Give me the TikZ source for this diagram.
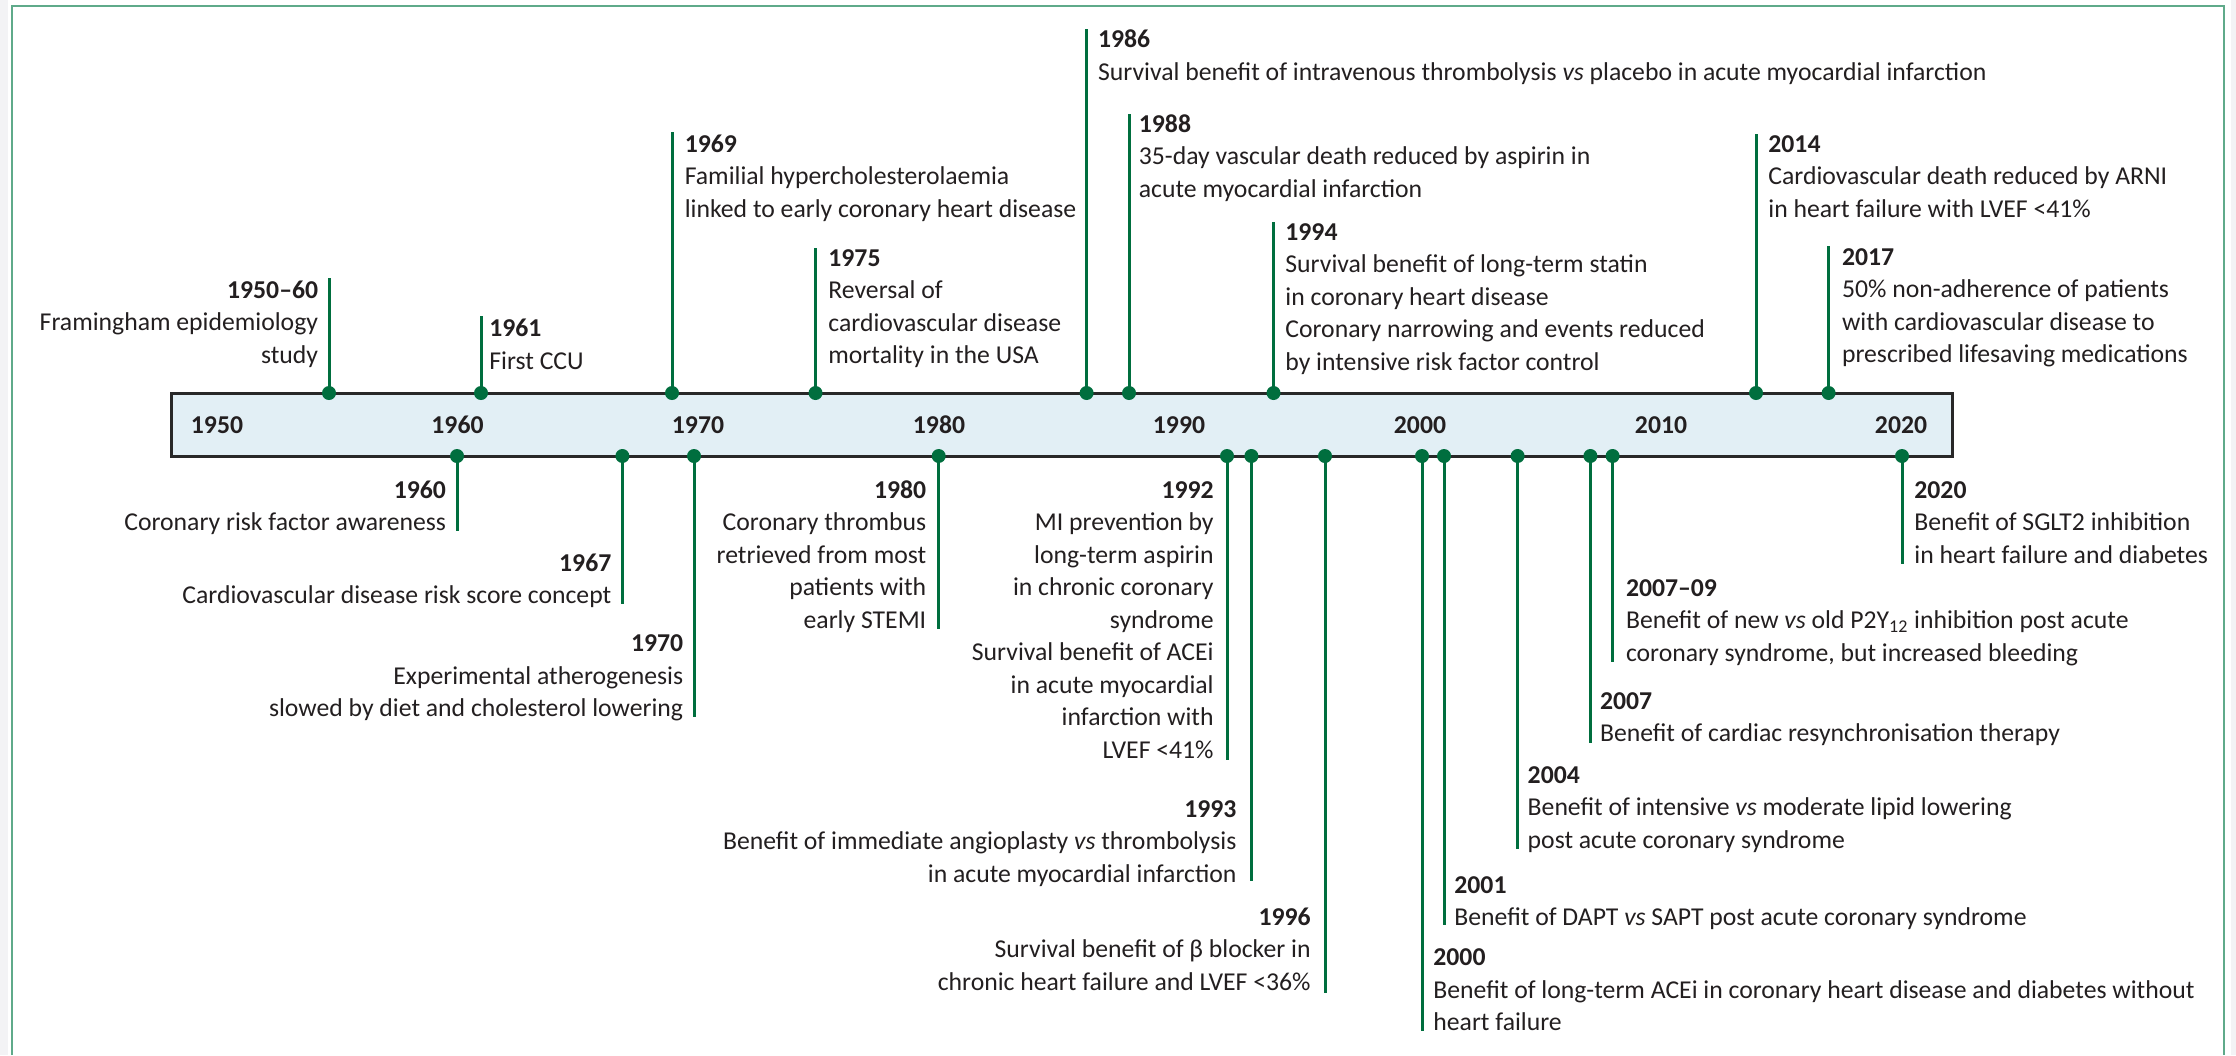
\documentclass[tikz,border=0pt]{standalone}
\usepackage{fontspec}
\setmainfont{Carlito}
\definecolor{tlgreen}{RGB}{0,110,62}
\definecolor{tlbar}{RGB}{226,239,245}
\definecolor{tlborder}{RGB}{40,40,40}
\definecolor{tltext}{RGB}{35,31,32}
\definecolor{tlframe}{RGB}{95,170,138}
\definecolor{tlmargin}{RGB}{243,243,245}
\newcommand\evfont{\fontsize{12.85pt}{16.25pt}\selectfont}
\newcommand\evstrut{\rule{0pt}{11pt}}
\tikzset{
  evdot/.style={circle, fill=tlgreen, inner sep=0pt, minimum size=7pt},
  evstem/.style={draw=tlgreen, line width=1.5pt},
  evtext/.style={inner sep=0pt, text=tltext, font=\evfont},
  evL/.style={evtext, anchor=north west, align=left},
  evR/.style={evtext, anchor=north east, align=right},
  barlbl/.style={inner sep=0pt, text=tltext, font=\evfont\bfseries, anchor=base},
  barbox/.style={draw=tlborder, fill=tlbar, line width=1.5pt}
}
\begin{document}
\begin{tikzpicture}[x=0.5pt,y=-0.5pt]
\useasboundingbox (0,0) rectangle (2236,1055);
\fill[white] (0,0) rectangle (2236,1055);
\fill[tlmargin] (0,0) rectangle (8,1055);
\fill[tlmargin] (2231,0) rectangle (2236,1055);
\draw[tlframe, line width=1pt] (11.5,1055) -- (11.5,5.5) -- (2224,5.5) -- (2224,1055);

% bar
\path[barbox] (171,393) rectangle (1952,456);
\node[barlbl] (y1950) at (217,433) {1950};
\node[barlbl] (y1960) at (457.5,433) {1960};
\node[barlbl] (y1970) at (698,433) {1970};
\node[barlbl] (y1980) at (939,433) {1980};
\node[barlbl] (y1990) at (1179,433) {1990};
\node[barlbl] (y2000) at (1420,433) {2000};
\node[barlbl] (y2010) at (1661,433) {2010};
\node[barlbl] (y2020) at (1901,433) {2020};

% ---------- events above the bar ----------
\coordinate (eA) at (329,278);
\coordinate (eB) at (481,316);
\coordinate (eC) at (672,132);
\coordinate (eD) at (815.5,247.5);
\coordinate (eE) at (1086.6,29);
\coordinate (eF) at (1129,113.6);
\coordinate (eG) at (1273.5,222);
\coordinate (eH) at (1756,134);
\coordinate (eI) at (1828.6,246.4);

% ---------- events below the bar ----------
\coordinate (eJ) at (457,531);
\coordinate (eK) at (622.4,604);
\coordinate (eL) at (694,717);
\coordinate (eM) at (938.7,629);
\coordinate (eN) at (1227,759.5);
\coordinate (eO) at (1251.4,881);
\coordinate (eP) at (1325,993);
\coordinate (eQ) at (1422,1031);
\coordinate (eR) at (1444,925);
\coordinate (eS) at (1517.6,849);
\coordinate (eT) at (1590.4,742.5);
\coordinate (eU) at (1612.6,662);
\coordinate (eV) at (1902,564);

\node[evdot] (dA) at (329,393) {};
\node[evdot] (dB) at (481,393) {};
\node[evdot] (dC) at (672,393) {};
\node[evdot] (dD) at (815.5,393) {};
\node[evdot] (dE) at (1086.6,393) {};
\node[evdot] (dF) at (1129,393) {};
\node[evdot] (dG) at (1273.5,393) {};
\node[evdot] (dH) at (1756,393) {};
\node[evdot] (dI) at (1828.6,393) {};

\node[evdot] (dJ) at (457,456) {};
\node[evdot] (dK) at (622.4,456) {};
\node[evdot] (dL) at (694,456) {};
\node[evdot] (dM) at (938.7,456) {};
\node[evdot] (dN) at (1227,456) {};
\node[evdot] (dO) at (1251.4,456) {};
\node[evdot] (dP) at (1325,456) {};
\node[evdot] (dQ) at (1422,456) {};
\node[evdot] (dR) at (1444,456) {};
\node[evdot] (dS) at (1517.6,456) {};
\node[evdot] (dT) at (1590.4,456) {};
\node[evdot] (dU) at (1612.6,456) {};
\node[evdot] (dV) at (1902,456) {};

\foreach \k in {A,B,C,D,E,F,G,H,I,J,K,L,M,N,O,P,Q,R,S,T,U,V}
  \draw[evstem] (d\k.center) -- (e\k);

% ---------- texts above ----------
\node[evR] (tA) at (318.5,276) {\evstrut\textbf{1950–60}\\Framingham epidemiology\\study};
\node[evL] (tB) at (489,314.4) {\evstrut\textbf{1961}\\First CCU};
\node[evL] (tC) at (684.4,130) {\evstrut\textbf{1969}\\Familial hypercholesterolaemia\\linked to early coronary heart disease};
\node[evL] (tD) at (828,244) {\evstrut\textbf{1975}\\Reversal of\\cardiovascular disease\\mortality in the USA};
\node[evL] (tE) at (1097.7,25.5) {\evstrut\textbf{1986}\\Survival benefit of intravenous thrombolysis \textit{vs} placebo in acute myocardial infarction};
\node[evL] (tF) at (1138.5,110) {\evstrut\textbf{1988}\\35-day vascular death reduced by aspirin in\\acute myocardial infarction};
\node[evL] (tG) at (1285,218) {\evstrut\textbf{1994}\\Survival benefit of long-term statin\\in coronary heart disease\\Coronary narrowing and events reduced\\by intensive risk factor control};
\node[evL] (tH) at (1768,130) {\evstrut\textbf{2014}\\Cardiovascular death reduced by ARNI\\in heart failure with LVEF <41\%};
\node[evL] (tI) at (1841.6,243) {\evstrut\textbf{2017}\\50\% non-adherence of patients\\with cardiovascular disease to\\prescribed lifesaving medications};

% ---------- texts below ----------
\node[evR] (tJ) at (446.4,476) {\evstrut\textbf{1960}\\Coronary risk factor awareness};
\node[evR] (tK) at (611.7,549) {\evstrut\textbf{1967}\\Cardiovascular disease risk score concept};
\node[evR] (tL) at (683.5,629.5) {\evstrut\textbf{1970}\\Experimental atherogenesis\\slowed by diet and cholesterol lowering};
\node[evR] (tM) at (926.6,476) {\evstrut\textbf{1980}\\Coronary thrombus\\retrieved from most\\patients with\\early STEMI};
\node[evR] (tN) at (1214,476) {\evstrut\textbf{1992}\\MI prevention by\\long-term aspirin\\in chronic coronary\\syndrome\\Survival benefit of ACEi\\in acute myocardial\\infarction with\\LVEF <41\%};
\node[evR] (tO) at (1236.8,794.8) {\evstrut\textbf{1993}\\Benefit of immediate angioplasty \textit{vs} thrombolysis\\in acute myocardial infarction};
\node[evR] (tP) at (1311,903) {\evstrut\textbf{1996}\\Survival benefit of β blocker in\\chronic heart failure and LVEF <36\%};
\node[evL] (tQ) at (1433,943.5) {\evstrut\textbf{2000}\\Benefit of long-term ACEi in coronary heart disease and diabetes without\\heart failure};
\node[evL] (tR) at (1454,871) {\evstrut\textbf{2001}\\Benefit of DAPT \textit{vs} SAPT post acute coronary syndrome};
\node[evL] (tS) at (1527.3,761) {\evstrut\textbf{2004}\\Benefit of intensive \textit{vs} moderate lipid lowering\\post acute coronary syndrome};
\node[evL] (tT) at (1599.6,686.8) {\evstrut\textbf{2007}\\Benefit of cardiac resynchronisation therapy};
\node[evL] (tU) at (1625.6,574) {\evstrut\textbf{2007–09}\\Benefit of new \textit{vs} old P2Y\textsubscript{12} inhibition post acute\\coronary syndrome, but increased bleeding};
\node[evL] (tV) at (1914,476) {\evstrut\textbf{2020}\\Benefit of SGLT2 inhibition\\in heart failure and diabetes};
\end{tikzpicture}
\end{document}
